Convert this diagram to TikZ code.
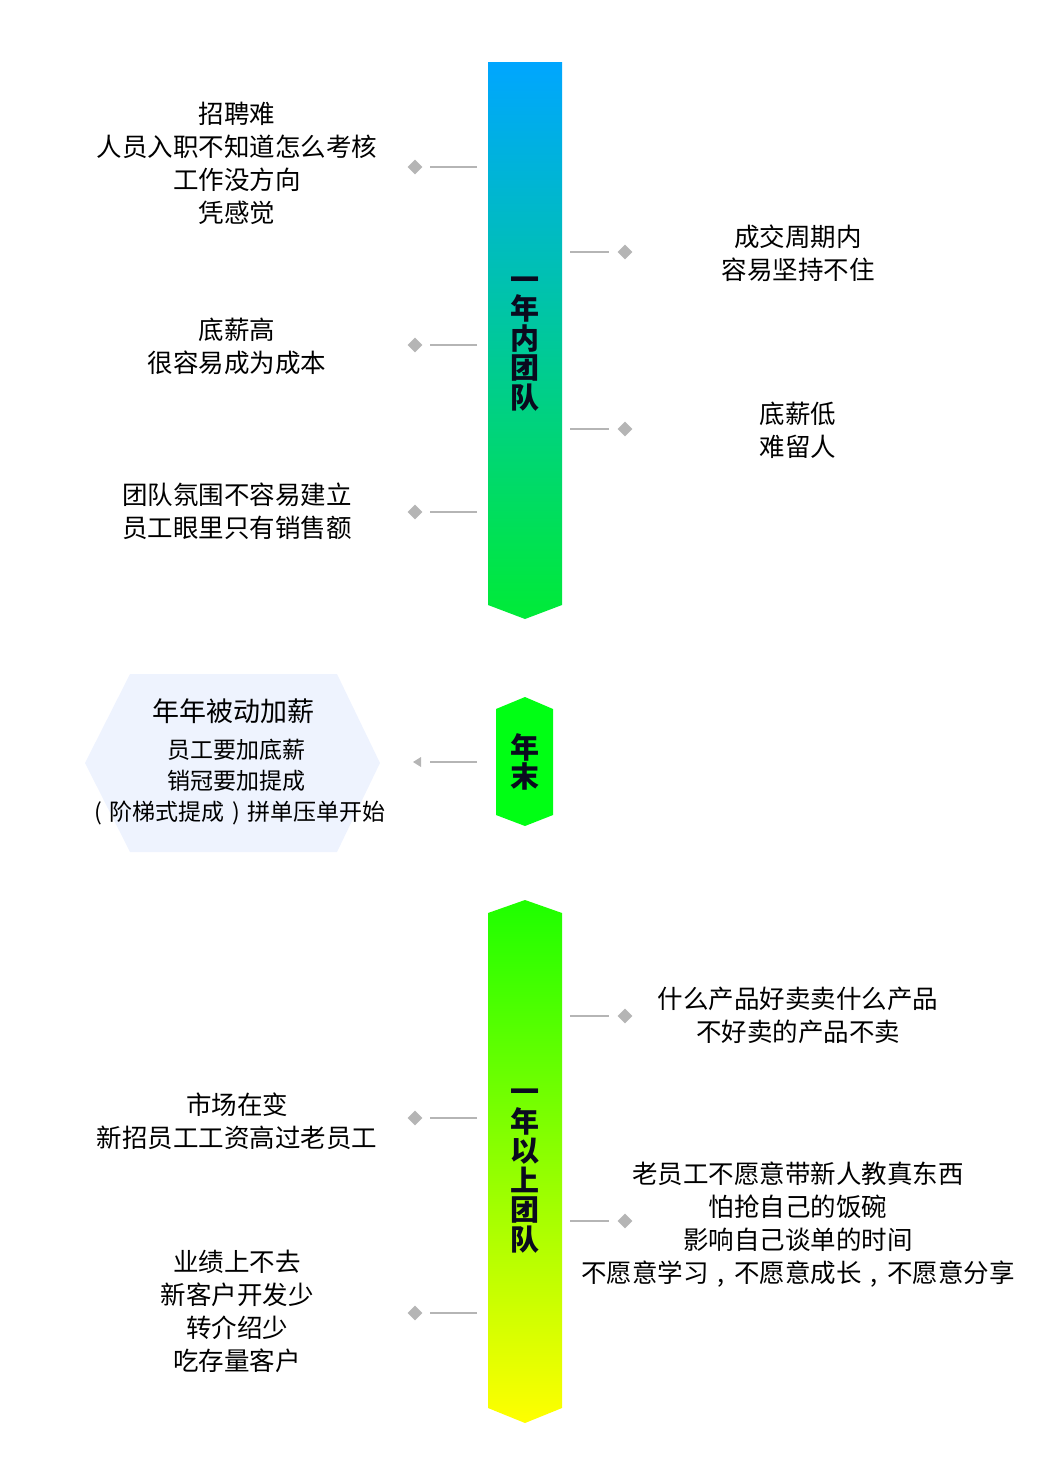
\documentclass[tikz,border=0pt]{standalone}
\usepackage{fontspec}
\setmainfont{Noto Sans CJK SC}
\usetikzlibrary{shapes.geometric}
\definecolor{barAtop}{RGB}{0,166,255}
\definecolor{barAbot}{RGB}{0,235,55}
\definecolor{barBtop}{RGB}{30,255,0}
\definecolor{barBbot}{RGB}{255,255,0}
\definecolor{midgreen}{RGB}{0,255,20}
\definecolor{hexfill}{RGB}{238,243,254}
\definecolor{connector}{RGB}{181,181,181}
\definecolor{bartext}{RGB}{10,10,30}
\newcommand\cjkcell[1]{\hbox to 1em{\hfil#1\hfil}}
\tikzset{
  txt/.style={align=center,inner sep=0pt,text=black,font=\fontsize{25.5}{33}\selectfont},
  bartxt/.style={align=center,inner sep=0pt,text=bartext,font=\fontsize{29}{29.5}\selectfont\bfseries},
  conn/.style={draw=connector,line width=2.2pt},
  dia/.style={shape=diamond,fill=connector,inner sep=0pt,minimum width=15pt,minimum height=15pt}
}
\begin{document}
\begin{tikzpicture}[x=1pt,y=-1pt]
\useasboundingbox (0,0) rectangle (1050,1475);
% bars
\shade[top color=barAtop,bottom color=barAbot] (488,62) -- (562,62) -- (562,605) -- (525,619) -- (488,605) -- cycle;
\shade[top color=barBtop,bottom color=barBbot] (525,900) -- (562,913) -- (562,1408) -- (525,1423) -- (488,1408) -- (488,913) -- cycle;
\fill[midgreen] (525,697) -- (553,709) -- (553,815) -- (525,826) -- (496,815) -- (496,709) -- cycle;
\node[bartxt] (barA) at (525,344) {一\\年\\内\\团\\队};
\node[bartxt] (barB) at (525,1171) {一\\年\\以\\上\\团\\队};
\node[bartxt] (barM) at (525,762) {年\\末};
% hexagon
\fill[hexfill] (130,674) -- (337,674) -- (380,763) -- (337,852) -- (130,852) -- (85,763) -- cycle;
\node[inner sep=0pt,font=\fontsize{27}{33}\selectfont] (hexT) at (233,711) {年年被动加薪};
\node[inner sep=0pt,align=center,font=\fontsize{23}{31}\selectfont] (hexB) at (236,782) {员工要加底薪\\销冠要加提成\\\cjkcell{(}阶梯式提成\cjkcell{)}拼单压单开始};
% left texts
\node[txt] (L1) at (237,163) {招聘难\\人员入职不知道怎么考核\\工作没方向\\凭感觉};
\node[txt] (L2) at (237,346) {底薪高\\很容易成为成本};
\node[txt] (L3) at (237,511) {团队氛围不容易建立\\员工眼里只有销售额};
\node[txt] (L4) at (237,1121) {市场在变\\新招员工工资高过老员工};
\node[txt] (L5) at (237,1311) {业绩上不去\\新客户开发少\\转介绍少\\吃存量客户};
% right texts
\node[txt] (R1) at (798,253) {成交周期内\\容易坚持不住};
\node[txt] (R2) at (798,430) {底薪低\\难留人};
\node[txt] (R3) at (798,1015) {什么产品好卖卖什么产品\\不好卖的产品不卖};
\node[txt] (R4) at (798,1225) {老员工不愿意带新人教真东西\\怕抢自己的饭碗\\影响自己谈单的时间\\不愿意学习\cjkcell{,}不愿意成长\cjkcell{,}不愿意分享};
% left connectors
\foreach \n/\y in {1/167,2/345,3/512,4/1118,5/1313}{
  \coordinate (la\n) at (477,\y);
  \coordinate (lb\n) at (430,\y);
  \node[dia] (ld\n) at (415,\y) {};
  \draw[conn] (la\n) -- (lb\n);
}
% right connectors
\foreach \n/\y in {1/252,2/429,3/1016,4/1221}{
  \coordinate (ra\n) at (570,\y);
  \coordinate (rb\n) at (609,\y);
  \node[dia] (rd\n) at (625,\y) {};
  \draw[conn] (ra\n) -- (rb\n);
}
% middle connector
\coordinate (ma) at (477,762);
\coordinate (mb) at (430,762);
\draw[conn] (ma) -- (mb);
\coordinate (mt) at (413,762);
\fill[connector] (mt) -- ++(8,-5) -- ++(0,10) -- cycle;
\end{tikzpicture}
\end{document}
